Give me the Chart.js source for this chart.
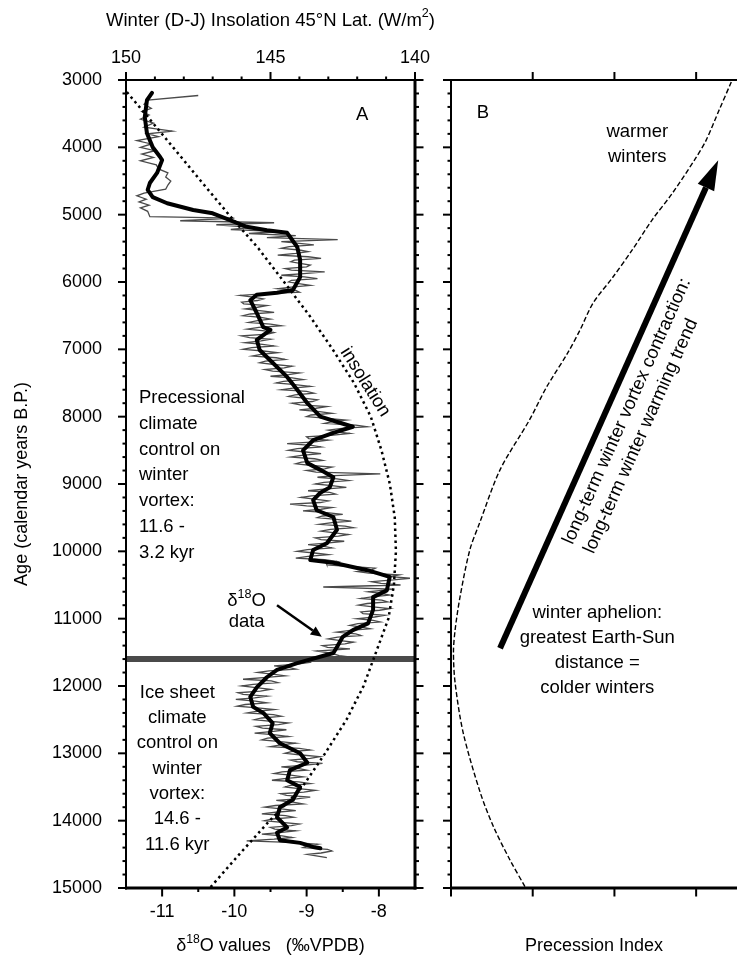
<!DOCTYPE html>
<html>
<head>
<meta charset="utf-8">
<script src="https://cdn.jsdelivr.net/npm/chart.js@4.4.1/dist/chart.umd.min.js"></script>
<style>
html, body { margin: 0; padding: 0; background: #fff; }
#wrap { position: relative; width: 737px; height: 962px; }
#chartA, #chartB { position: absolute; top: 0; }
#chartA { left: 0; }
#chartB { left: 437px; }
</style>
</head>
<body>
<div id="wrap">
<canvas id="chartA" width="737" height="962"></canvas>
<canvas id="chartB" width="300" height="962"></canvas>
</div>
<script>
// axis ticks
const ageTicks = [3000, 4000, 5000, 6000, 7000, 8000, 9000, 10000, 11000, 12000, 13000, 14000, 15000];
const d18OTicks = [-11, -10, -9, -8];
const d18OMinor = [-10.5, -9.5, -8.5];
const insolationTicks = [150, 145, 140];
const insolationMinor = [149, 148, 147, 146, 144, 143, 142, 141];
const precessionTicks = [0, 1, 2, 3];
const boundaryAge = 11600;

// d18O raw record, [age, d18O] (thin grey)
const rawRecord = [
  [3230, -10.50], [3300, -11.20], [3360, -11.25], [3420, -11.15], [3470, -11.28], [3520, -11.18], [3580, -11.30], [3640, -11.12],
  [3700, -11.25], [3760, -10.86], [3800, -11.20], [3840, -11.05], [3900, -11.35], [3950, -11.15], [4000, -11.30], [4050, -11.10],
  [4100, -11.28], [4150, -11.12], [4200, -11.30], [4260, -11.08], [4320, -11.05], [4380, -10.92], [4440, -10.95], [4500, -10.88],
  [4560, -10.92], [4620, -10.95], [4680, -11.25], [4720, -11.35], [4770, -11.22], [4810, -11.32], [4860, -11.18], [4900, -11.30],
  [4950, -11.20], [5030, -11.17], [5050, -10.00], [5090, -10.75], [5120, -9.45], [5150, -10.25], [5190, -9.75], [5220, -10.05],
  [5250, -9.35], [5280, -9.80], [5310, -9.15], [5340, -9.55], [5370, -8.57], [5400, -9.35], [5425, -9.10], [5450, -8.90],
  [5475, -9.24], [5500, -9.35], [5525, -9.10], [5550, -8.98], [5575, -9.15], [5600, -9.40], [5625, -8.98], [5650, -8.80],
  [5675, -9.17], [5700, -9.22], [5725, -9.09], [5750, -8.95], [5775, -9.00], [5800, -9.30], [5825, -9.21], [5850, -8.75],
  [5875, -9.04], [5900, -9.35], [5925, -9.03], [5950, -8.85], [5975, -9.21], [6000, -9.25], [6025, -9.11], [6050, -8.95],
  [6075, -9.21], [6100, -9.40], [6125, -9.15], [6150, -9.10], [6175, -9.61], [6200, -9.92], [6225, -9.74], [6250, -9.60],
  [6275, -9.68], [6300, -9.90], [6325, -9.87], [6350, -9.55], [6375, -9.68], [6400, -9.85], [6425, -9.65], [6450, -9.45],
  [6475, -9.78], [6500, -9.88], [6525, -9.63], [6550, -9.50], [6575, -9.68], [6600, -9.80], [6625, -9.50], [6650, -9.35],
  [6675, -9.66], [6700, -9.82], [6725, -9.58], [6750, -9.45], [6775, -9.54], [6800, -9.90], [6825, -9.79], [6850, -9.50],
  [6875, -9.63], [6900, -9.85], [6925, -9.61], [6950, -9.45], [6975, -9.76], [7000, -9.88], [7025, -9.60], [7050, -9.40],
  [7075, -9.63], [7100, -9.75], [7125, -9.42], [7150, -9.30], [7175, -9.57], [7200, -9.65], [7225, -9.45], [7250, -9.20],
  [7275, -9.31], [7300, -9.58], [7325, -9.47], [7350, -9.10], [7375, -9.25], [7400, -9.50], [7425, -9.20], [7450, -9.05],
  [7475, -9.32], [7500, -9.42], [7525, -9.16], [7550, -8.95], [7575, -9.19], [7600, -9.35], [7625, -9.00], [7650, -8.90],
  [7675, -9.16], [7700, -9.25], [7725, -9.04], [7750, -8.85], [7775, -8.92], [7800, -9.20], [7825, -9.09], [7850, -8.72],
  [7875, -8.87], [7900, -9.10], [7925, -8.82], [7950, -8.65], [7975, -8.94], [8000, -9.00], [8025, -8.71], [8050, -8.45],
  [8075, -8.64], [8100, -8.75], [8125, -8.32], [8150, -8.16], [8175, -8.51], [8200, -8.70], [8225, -8.58], [8250, -8.40],
  [8275, -8.63], [8300, -9.00], [8325, -8.97], [8350, -8.70], [8375, -8.89], [8400, -9.27], [8425, -8.93], [8450, -8.80],
  [8475, -9.13], [8500, -9.25], [8525, -9.01], [8550, -8.80], [8575, -9.07], [8600, -9.22], [8625, -8.89], [8650, -8.78],
  [8675, -9.07], [8700, -9.15], [8725, -8.93], [8750, -8.65], [8775, -8.75], [8800, -9.00], [8825, -8.87], [8850, -7.98],
  [8875, -8.62], [8900, -8.85], [8925, -8.58], [8950, -8.42], [8975, -8.76], [9000, -8.88], [9025, -8.65], [9050, -8.45],
  [9075, -8.76], [9100, -8.98], [9125, -8.68], [9150, -8.60], [9175, -8.93], [9200, -9.08], [9225, -8.89], [9250, -8.70],
  [9275, -8.81], [9300, -9.23], [9325, -9.00], [9350, -8.65], [9375, -8.80], [9400, -9.05], [9425, -8.72], [9450, -8.50],
  [9475, -8.78], [9500, -8.85], [9525, -8.59], [9550, -8.38], [9575, -8.65], [9600, -8.82], [9625, -8.47], [9650, -8.35],
  [9675, -8.67], [9700, -8.80], [9725, -8.61], [9750, -8.42], [9775, -8.56], [9800, -8.88], [9825, -8.80], [9850, -8.48],
  [9875, -8.69], [9900, -8.98], [9925, -8.76], [9950, -8.65], [9975, -8.99], [10000, -9.13], [10025, -8.89], [10050, -8.70],
  [10075, -8.98], [10100, -9.15], [10125, -8.75], [10150, -8.58], [10175, -8.73], [10200, -8.72], [10225, -8.39], [10250, -8.05],
  [10275, -8.10], [10300, -8.30], [10325, -8.14], [10350, -7.72], [10375, -7.84], [10400, -7.57], [10425, -7.80], [10450, -8.10],
  [10475, -7.97], [10500, -7.70], [10530, -8.77], [10560, -7.80], [10600, -8.15], [10625, -7.97], [10650, -7.85], [10675, -8.10],
  [10700, -8.25], [10725, -7.96], [10750, -7.88], [10775, -8.16], [10800, -8.28], [10825, -8.08], [10850, -7.85], [10875, -7.99],
  [10900, -8.25], [10925, -8.22], [10950, -7.92], [10975, -8.06], [11000, -8.30], [11025, -8.08], [11050, -7.98], [11075, -8.29],
  [11100, -8.40], [11125, -8.24], [11150, -8.12], [11175, -8.40], [11200, -8.58], [11225, -8.32], [11250, -8.25], [11275, -8.57],
  [11300, -8.70], [11325, -8.53], [11350, -8.35], [11375, -8.47], [11400, -8.78], [11425, -8.71], [11450, -8.40], [11480, -8.86],
  [11515, -8.65], [11550, -8.55], [11600, -8.16], [11610, -9.00], [11650, -8.95], [11675, -9.13], [11700, -9.45], [11725, -9.25],
  [11750, -9.15], [11775, -9.52], [11800, -9.68], [11825, -9.47], [11850, -9.30], [11875, -9.60], [11900, -9.88], [11925, -9.49],
  [11950, -9.40], [11975, -9.74], [12000, -9.90], [12025, -9.70], [12050, -9.50], [12075, -9.64], [12100, -9.95], [12125, -9.88],
  [12150, -9.55], [12175, -9.72], [12200, -9.98], [12225, -9.71], [12250, -9.55], [12275, -9.85], [12300, -9.96], [12325, -9.68],
  [12350, -9.45], [12375, -9.68], [12400, -9.82], [12425, -9.46], [12450, -9.35], [12475, -9.62], [12500, -9.72], [12525, -9.49],
  [12550, -9.25], [12575, -9.39], [12600, -9.70], [12625, -9.61], [12650, -9.28], [12675, -9.46], [12700, -9.72], [12725, -9.43],
  [12750, -9.25], [12775, -9.54], [12800, -9.62], [12825, -9.36], [12850, -9.15], [12875, -9.36], [12900, -9.50], [12925, -9.10],
  [12950, -8.95], [12975, -9.21], [13000, -9.30], [13025, -9.07], [13050, -8.82], [13075, -8.95], [13100, -9.22], [13125, -9.13],
  [13150, -8.78], [13175, -9.01], [13200, -9.35], [13225, -9.12], [13250, -9.00], [13275, -9.34], [13300, -9.45], [13325, -9.22],
  [13350, -9.05], [13375, -9.31], [13400, -9.48], [13425, -9.11], [13450, -8.95], [13475, -9.22], [13500, -9.30], [13525, -9.11],
  [13550, -8.88], [13575, -9.04], [13600, -9.36], [13625, -9.28], [13650, -8.95], [13675, -9.14], [13700, -9.42], [13725, -9.19],
  [13750, -9.05], [13775, -9.43], [13800, -9.58], [13825, -9.35], [13850, -9.15], [13875, -9.43], [13900, -9.62], [13925, -9.29],
  [13950, -9.18], [13975, -9.47], [14000, -9.58], [14025, -9.34], [14050, -9.10], [14075, -9.21], [14100, -9.50], [14125, -9.44],
  [14150, -9.15], [14175, -9.34], [14200, -9.62], [14225, -9.34], [14250, -9.20], [14275, -9.45], [14300, -9.83], [14325, -9.15],
  [14350, -8.85], [14375, -8.99], [14400, -9.05], [14425, -8.71], [14450, -8.65], [14480, -8.80], [14500, -8.99], [14550, -8.72]
];

// d18O smoothed record (thick black)
const smoothAge = [3190, 3300, 3550, 3790, 4000, 4140, 4190, 4380, 4530, 4630, 4740, 4830, 4930, 4980, 5080, 5180, 5230, 5270, 5480, 5670,
  5930, 6120, 6160, 6190, 6270, 6460, 6670, 6710, 6860, 7010, 7200, 7410, 7600, 7800, 8000, 8090, 8150, 8240, 8350, 8500,
  8690, 8790, 8900, 9050, 9130, 9240, 9390, 9490, 9680, 9880, 9980, 10130, 10170, 10280, 10380, 10580, 10680, 10870, 11070, 11170,
  11270, 11420, 11510, 11660, 11760, 11870, 12020, 12160, 12310, 12400, 12550, 12700, 12850, 13000, 13140, 13250, 13400, 13500, 13690, 13800,
  13950, 14100, 14180, 14290, 14330, 14390, 14410];
const smoothD18O = [-11.14, -11.21, -11.24, -11.21, -11.13, -11.03, -11.00, -11.07, -11.17, -11.20, -11.13, -10.93, -10.57, -10.30, -10.06, -9.83, -9.55, -9.27, -9.13, -9.09,
  -9.09, -9.19, -9.41, -9.69, -9.78, -9.69, -9.60, -9.50, -9.69, -9.65, -9.47, -9.27, -9.13, -8.99, -8.81, -8.54, -8.36, -8.63, -8.91, -9.05,
  -8.99, -8.81, -8.63, -8.68, -8.81, -8.91, -8.86, -8.63, -8.58, -8.72, -8.91, -8.95, -8.63, -8.16, -7.85, -7.89, -8.08, -8.08, -8.15, -8.36,
  -8.50, -8.58, -8.63, -9.13, -9.41, -9.55, -9.69, -9.78, -9.74, -9.60, -9.47, -9.51, -9.37, -9.09, -8.99, -9.23, -9.27, -9.09, -9.19, -9.37,
  -9.41, -9.27, -9.41, -9.37, -9.09, -8.91, -8.81];

// winter insolation 45N (top axis)
const insolationAge = [3180, 3500, 4000, 4500, 5000, 5500, 6000, 6500, 7000, 7500, 8000, 8500, 9000, 9500, 10000, 10500, 11000, 11500, 12000, 12500,
  13000, 13500, 14000, 14500, 15000];
const insolation = [149.97, 149.34, 148.37, 147.41, 146.44, 145.42, 144.53, 143.65, 142.85, 142.11, 141.53, 141.16, 140.87, 140.70, 140.66, 140.73, 140.92, 141.35, 141.78, 142.37,
  143.11, 143.90, 145.03, 146.08, 147.10];

// precession index (panel B)
const precessionAge = [3030, 3450, 3900, 4150, 4680, 5080, 5520, 5930, 6310, 6710, 7050, 7560, 8050, 8790, 9580, 9980, 10680, 11170, 11500, 11950,
  12700, 13590, 14090, 14580, 14990];
const precessionIndex = [3.43, 3.28, 3.12, 3.00, 2.71, 2.46, 2.22, 1.98, 1.74, 1.58, 1.43, 1.17, 0.96, 0.60, 0.35, 0.23, 0.11, 0.05, 0.03, 0.05,
  0.15, 0.36, 0.52, 0.72, 0.91];

const ageMinor = [];
for (let a = 3200; a < 15000; a += 200) if (a % 1000) ageMinor.push(a);

const FAMILY = '"Liberation Sans", Arial, Helvetica, sans-serif';
const fnt = s => s + 'px ' + FAMILY;
const pts = (ages, vals) => ages.map((a, i) => ({ x: vals[i], y: a }));
const setTicks = list => scale => { scale.ticks = list.map(v => ({ value: v })); };

function drawRich(ctx, parts, x, y, size, align) {
    ctx.save();
    ctx.textBaseline = 'middle';
    ctx.textAlign = 'left';
    let w = 0;
    parts.forEach(p => { ctx.font = fnt(p.sup ? size * 0.68 : size); w += ctx.measureText(p.t).width; });
    let cx = align === 'center' ? x - w / 2 : x;
    parts.forEach(p => {
        ctx.font = fnt(p.sup ? size * 0.68 : size);
        ctx.fillText(p.t, cx, p.sup ? y - size * 0.38 : y);
        cx += ctx.measureText(p.t).width;
    });
    ctx.restore();
}

function textLines(ctx, lines, x, y, step, align) {
    ctx.textAlign = align;
    ctx.textBaseline = 'middle';
    lines.forEach((t, i) => ctx.fillText(t, x, y + i * step));
}

function arrow(ctx, x1, y1, x2, y2, w, headLen, headW) {
    const ang = Math.atan2(y2 - y1, x2 - x1);
    const bx = x2 - headLen * Math.cos(ang), by = y2 - headLen * Math.sin(ang);
    ctx.lineWidth = w;
    ctx.beginPath(); ctx.moveTo(x1, y1); ctx.lineTo(bx, by); ctx.stroke();
    ctx.beginPath();
    ctx.moveTo(x2, y2);
    ctx.lineTo(bx + headW * Math.sin(ang), by - headW * Math.cos(ang));
    ctx.lineTo(bx - headW * Math.sin(ang), by + headW * Math.cos(ang));
    ctx.closePath(); ctx.fill();
}

// box side with outward ticks
function drawSide(chart, s) {
    const { ctx, chartArea: a } = chart;
    const sc = chart.scales[s.scale];
    const vertical = s.side === 'left' || s.side === 'right';
    const base = a[s.side];
    const dir = (s.side === 'left' || s.side === 'top') ? -1 : 1;
    ctx.lineWidth = s.width;
    ctx.beginPath();
    if (vertical) { ctx.moveTo(base, a.top - 1); ctx.lineTo(base, a.bottom + 1.5); }
    else { ctx.moveTo(a.left - 1, base); ctx.lineTo(s.toEdge ? chart.width : a.right + 1.5, base); }
    ctx.stroke();
    const mark = (v, len) => {
        const p = sc.getPixelForValue(v);
        ctx.lineWidth = 2;
        ctx.beginPath();
        if (vertical) { ctx.moveTo(base, p); ctx.lineTo(base + dir * (s.width / 2 + len), p); }
        else { ctx.moveTo(p, base); ctx.lineTo(p, base + dir * (s.width / 2 + len)); }
        ctx.stroke();
    };
    (s.minor || []).forEach(v => mark(v, 2.5));
    (s.major || []).forEach(v => mark(v, 7));
}

const tickFont = { family: FAMILY, size: 18, weight: 'normal' };

const panelA = {
    id: 'panelA',
    beforeDatasetsDraw(chart) {
        const { ctx, chartArea: a, scales } = chart;
        const y = scales.y.getPixelForValue(boundaryAge);
        ctx.save();
        ctx.strokeStyle = '#4a4a4a';
        ctx.lineWidth = 6;
        ctx.beginPath(); ctx.moveTo(a.left, y); ctx.lineTo(a.right, y); ctx.stroke();
        ctx.restore();
    },
    afterDraw(chart) {
        const { ctx, chartArea: a, scales: { x, y } } = chart;
        ctx.save();
        ctx.strokeStyle = '#000';
        ctx.fillStyle = '#000';
        drawSide(chart, { side: 'left', scale: 'y', width: 2, major: ageTicks, minor: ageMinor });
        drawSide(chart, { side: 'right', scale: 'y', width: 3, major: ageTicks, minor: ageMinor });
        drawSide(chart, { side: 'top', scale: 'xTop', width: 2, major: insolationTicks, minor: insolationMinor });
        drawSide(chart, { side: 'bottom', scale: 'x', width: 3, major: d18OTicks, minor: d18OMinor });

        // axis titles
        drawRich(ctx, [{ t: 'Winter (D-J) Insolation 45°N Lat. (W/m' }, { t: '2', sup: true }, { t: ')' }],
            (a.left + a.right) / 2, 21, 18.5, 'center');
        drawRich(ctx, [{ t: 'δ' }, { t: '18', sup: true }, { t: 'O values   (‰VPDB)' }],
            (a.left + a.right) / 2, 946, 18, 'center');
        ctx.save();
        ctx.translate(22, (a.top + a.bottom) / 2);
        ctx.rotate(-Math.PI / 2);
        ctx.font = fnt(18);
        textLines(ctx, ['Age (calendar years B.P.)'], 0, 0, 0, 'center');
        ctx.restore();

        // annotations
        ctx.font = fnt(18.5);
        textLines(ctx, ['A'], x.getPixelForValue(-8.23), y.getPixelForValue(3520), 0, 'center');
        textLines(ctx, ['Precessional', 'climate', 'control on', 'winter', 'vortex:', '11.6 -', '3.2 kyr'],
            x.getPixelForValue(-11.32), y.getPixelForValue(7720), 25.8, 'left');
        textLines(ctx, ['Ice sheet', 'climate', 'control on', 'winter', 'vortex:', '14.6 -', '11.6 kyr'],
            x.getPixelForValue(-10.79), y.getPixelForValue(12100), 25.3, 'center');
        drawRich(ctx, [{ t: 'δ' }, { t: '18', sup: true }, { t: 'O' }],
            x.getPixelForValue(-9.83), y.getPixelForValue(10740), 18.5, 'center');
        textLines(ctx, ['data'], x.getPixelForValue(-9.83), y.getPixelForValue(11050), 0, 'center');
        arrow(ctx, x.getPixelForValue(-9.41), y.getPixelForValue(10800),
            x.getPixelForValue(-8.79), y.getPixelForValue(11270), 2.5, 11, 5);

        ctx.save();
        ctx.translate(x.getPixelForValue(-8.19), y.getPixelForValue(7485));
        ctx.rotate(57.8 * Math.PI / 180);
        textLines(ctx, ['insolation'], 0, 0, 0, 'center');
        ctx.restore();
        ctx.restore();
    }
};

new Chart(document.getElementById('chartA'), {
    type: 'scatter',
    data: {
        datasets: [
            {
                data: pts(insolationAge, insolation),
                xAxisID: 'xTop', yAxisID: 'y',
                showLine: true, borderColor: '#000', borderWidth: 2.5, borderDash: [2.5, 3.5],
                pointRadius: 0, order: 0
            },
            {
                data: pts(smoothAge, smoothD18O),
                xAxisID: 'x', yAxisID: 'y',
                showLine: true, borderColor: '#000', borderWidth: 4, borderJoinStyle: 'round', borderCapStyle: 'round',
                pointRadius: 0, order: 1
            },
            {
                data: rawRecord.map(p => ({ x: p[1], y: p[0] })),
                xAxisID: 'x', yAxisID: 'y',
                showLine: true, borderColor: '#4a4a4a', borderWidth: 1.3,
                pointRadius: 0, order: 2
            }
        ]
    },
    options: {
        responsive: false,
        animation: false,
        layout: { padding: { right: 322 } },
        plugins: { legend: { display: false }, tooltip: { enabled: false } },
        scales: {
            x: {
                type: 'linear', position: 'bottom', min: -11.5, max: -7.5,
                grid: { display: false, drawTicks: false }, border: { display: false },
                ticks: { font: tickFont, color: '#000', padding: 13, callback: v => String(v) },
                afterBuildTicks: setTicks(d18OTicks),
                afterFit: s => { s.height = 74; }
            },
            xTop: {
                type: 'linear', position: 'top', min: 140, max: 150, reverse: true,
                grid: { display: false, drawTicks: false }, border: { display: false },
                ticks: { font: tickFont, color: '#000', padding: 11, callback: v => String(v) },
                afterBuildTicks: setTicks(insolationTicks),
                afterFit: s => { s.height = 80; }
            },
            y: {
                type: 'linear', position: 'left', min: 3000, max: 15000, reverse: true,
                grid: { display: false, drawTicks: false }, border: { display: false },
                ticks: { font: tickFont, color: '#000', padding: 24, callback: v => String(v) },
                afterBuildTicks: setTicks(ageTicks),
                afterFit: s => { s.width = 126; }
            }
        }
    },
    plugins: [panelA]
});

const panelB = {
    id: 'panelB',
    afterDraw(chart) {
        const { ctx, chartArea: a, scales: { x, y } } = chart;
        ctx.save();
        ctx.strokeStyle = '#000';
        ctx.fillStyle = '#000';
        drawSide(chart, { side: 'left', scale: 'y', width: 2, major: ageTicks, minor: ageMinor });
        drawSide(chart, { side: 'top', scale: 'x', width: 2, major: precessionTicks.slice(1), toEdge: true });
        drawSide(chart, { side: 'bottom', scale: 'x', width: 3, major: precessionTicks, toEdge: true });

        ctx.font = fnt(18);
        textLines(ctx, ['Precession Index'], (a.left + a.right) / 2, 946, 0, 'center');

        ctx.font = fnt(18.5);
        textLines(ctx, ['B'], x.getPixelForValue(0.39), y.getPixelForValue(3490), 0, 'center');
        textLines(ctx, ['warmer', 'winters'], x.getPixelForValue(2.28), y.getPixelForValue(3770), 25, 'center');
        textLines(ctx, ['winter aphelion:', 'greatest Earth-Sun', 'distance =', 'colder winters'],
            x.getPixelForValue(1.79), y.getPixelForValue(10910), 25.2, 'center');

        arrow(ctx, x.getPixelForValue(0.6), y.getPixelForValue(11440),
            x.getPixelForValue(3.27), y.getPixelForValue(4190), 6, 30, 9);

        ctx.save();
        ctx.translate(x.getPixelForValue(1.43), y.getPixelForValue(9877));
        ctx.rotate(-65.9 * Math.PI / 180);
        textLines(ctx, ['long-term winter vortex contraction:', 'long-term winter warming trend'], 0, 0, 23, 'left');
        ctx.restore();
        ctx.restore();
    }
};

new Chart(document.getElementById('chartB'), {
    type: 'scatter',
    data: {
        datasets: [{
            data: pts(precessionAge, precessionIndex),
            showLine: true, borderColor: '#000', borderWidth: 1.4, borderDash: [5, 2.5],
            tension: 0.3, pointRadius: 0
        }]
    },
    options: {
        responsive: false,
        animation: false,
        layout: { padding: { left: 14, top: 80, bottom: 74, right: 0 } },
        plugins: { legend: { display: false }, tooltip: { enabled: false } },
        scales: {
            x: { type: 'linear', min: 0, max: 3.5, display: false },
            y: { type: 'linear', min: 3000, max: 15000, reverse: true, display: false }
        }
    },
    plugins: [panelB]
});
</script>
</body>
</html>
